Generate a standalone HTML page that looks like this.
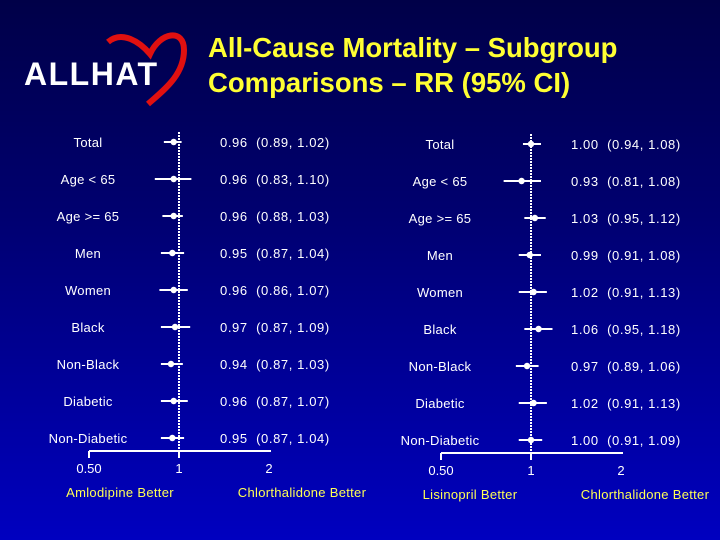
<!DOCTYPE html>
<html><head><meta charset="utf-8"><style>
body{margin:0;width:720px;height:540px;overflow:hidden;background:linear-gradient(#000048 0%,#000070 40%,#0000c0 100%);font-family:"Liberation Sans",sans-serif}
svg{position:absolute;left:0;top:0}
text{white-space:pre}
</style></head><body>
<svg width="720" height="540">
<text x="24" y="85" fill="#fff" font-size="32" font-weight="bold" letter-spacing="1.5">ALLHAT</text>
<path d="M108 42 C122 30,140 42,150 54 C160 32,184 28,184 50 C184 75,164 90,148 104" stroke="#e01010" stroke-width="6" fill="none"/>
<text x="208" y="57" fill="#ffff33" font-size="27.5" font-weight="bold">All-Cause Mortality – Subgroup</text>
<text x="208" y="92" fill="#ffff33" font-size="27.5" font-weight="bold">Comparisons – RR (95% CI)</text>
<g id="plots"></g>
</svg>
<script>
const categories=["Total","Age < 65","Age >= 65","Men","Women","Black","Non-Black","Diabetic","Non-Diabetic"];
const leftRR=[0.96,0.96,0.96,0.95,0.96,0.97,0.94,0.96,0.95];
const leftLo=[0.89,0.83,0.88,0.87,0.86,0.87,0.87,0.87,0.87];
const leftHi=[1.02,1.10,1.03,1.04,1.07,1.09,1.03,1.07,1.04];
const rightRR=[1.00,0.93,1.03,0.99,1.02,1.06,0.97,1.02,1.00];
const rightLo=[0.94,0.81,0.95,0.91,0.91,0.95,0.89,0.91,0.91];
const rightHi=[1.08,1.08,1.12,1.08,1.13,1.18,1.06,1.13,1.09];
const tickVals=[0.5,1,2];
const tickLabels=["0.50","1","2"];
const NS="http://www.w3.org/2000/svg";
const g=document.getElementById('plots');
function mk(t,a,txt){const e=document.createElementNS(NS,t);for(const k in a)e.setAttribute(k,a[k]);if(txt!==undefined)e.textContent=txt;g.appendChild(e);return e;}
function f(v){return v.toFixed(2);}
function panel(p){
  const x=v=>p.x1+90*Math.log2(v);
  const y=i=>p.y0+i*37;
  const n=categories.length;
  let e=mk('line',{x1:x(1),x2:x(1),y1:p.y0-10,y2:p.axisY,stroke:'#fff','stroke-width':2,'stroke-dasharray':'2,1'});
  
  
  e=mk('line',{x1:x(0.5),x2:x(2)+2,y1:p.axisY,y2:p.axisY,stroke:'#fff','stroke-width':2});
  
  
  tickVals.forEach((v,k)=>{
    const t=mk('line',{x1:x(v),x2:x(v),y1:p.axisY,y2:p.axisY+(v===2?0:7),stroke:'#fff','stroke-width':2});
    
    
    const l=mk('text',{x:x(v),y:p.axisY+22,fill:'#fff','font-size':13,'text-anchor':'middle'},tickLabels[k]);
    
    
  });
  for(let i=0;i<n;i++){
    const yy=y(i);
    const lab=mk('text',{x:p.labX,y:yy+5,fill:'#fff','font-size':13,'text-anchor':'middle','letter-spacing':0.3},categories[i]);
    
    
    const ci=mk('line',{x1:x(p.lo[i]),x2:x(p.hi[i]),y1:yy,y2:yy,stroke:'#fff','stroke-width':2});
    
    
    const pt=mk('circle',{cx:x(p.rr[i]),cy:yy,r:3.2,fill:'#fff'});
    
    
    const v=mk('text',{x:p.valX,y:yy+5,fill:'#fff','font-size':13,'letter-spacing':0.6},f(p.rr[i])+'  ('+f(p.lo[i])+', '+f(p.hi[i])+')');
    
    
  }
  p.foot.forEach(([tx,xx])=>{
    const t=mk('text',{x:xx,y:p.axisY+46,fill:'#ffff55','font-size':13,'text-anchor':'middle','letter-spacing':0.3},tx);
    
    
  });
}
panel({id:'amlodipine',x1:179,y0:142,axisY:451,labX:88,valX:220,rr:leftRR,lo:leftLo,hi:leftHi,foot:[["Amlodipine Better",120],["Chlorthalidone Better",302]]});
panel({id:'lisinopril',x1:531,y0:144,axisY:453,labX:440,valX:571,rr:rightRR,lo:rightLo,hi:rightHi,foot:[["Lisinopril Better",470],["Chlorthalidone Better",645]]});
</script>
</body></html>
